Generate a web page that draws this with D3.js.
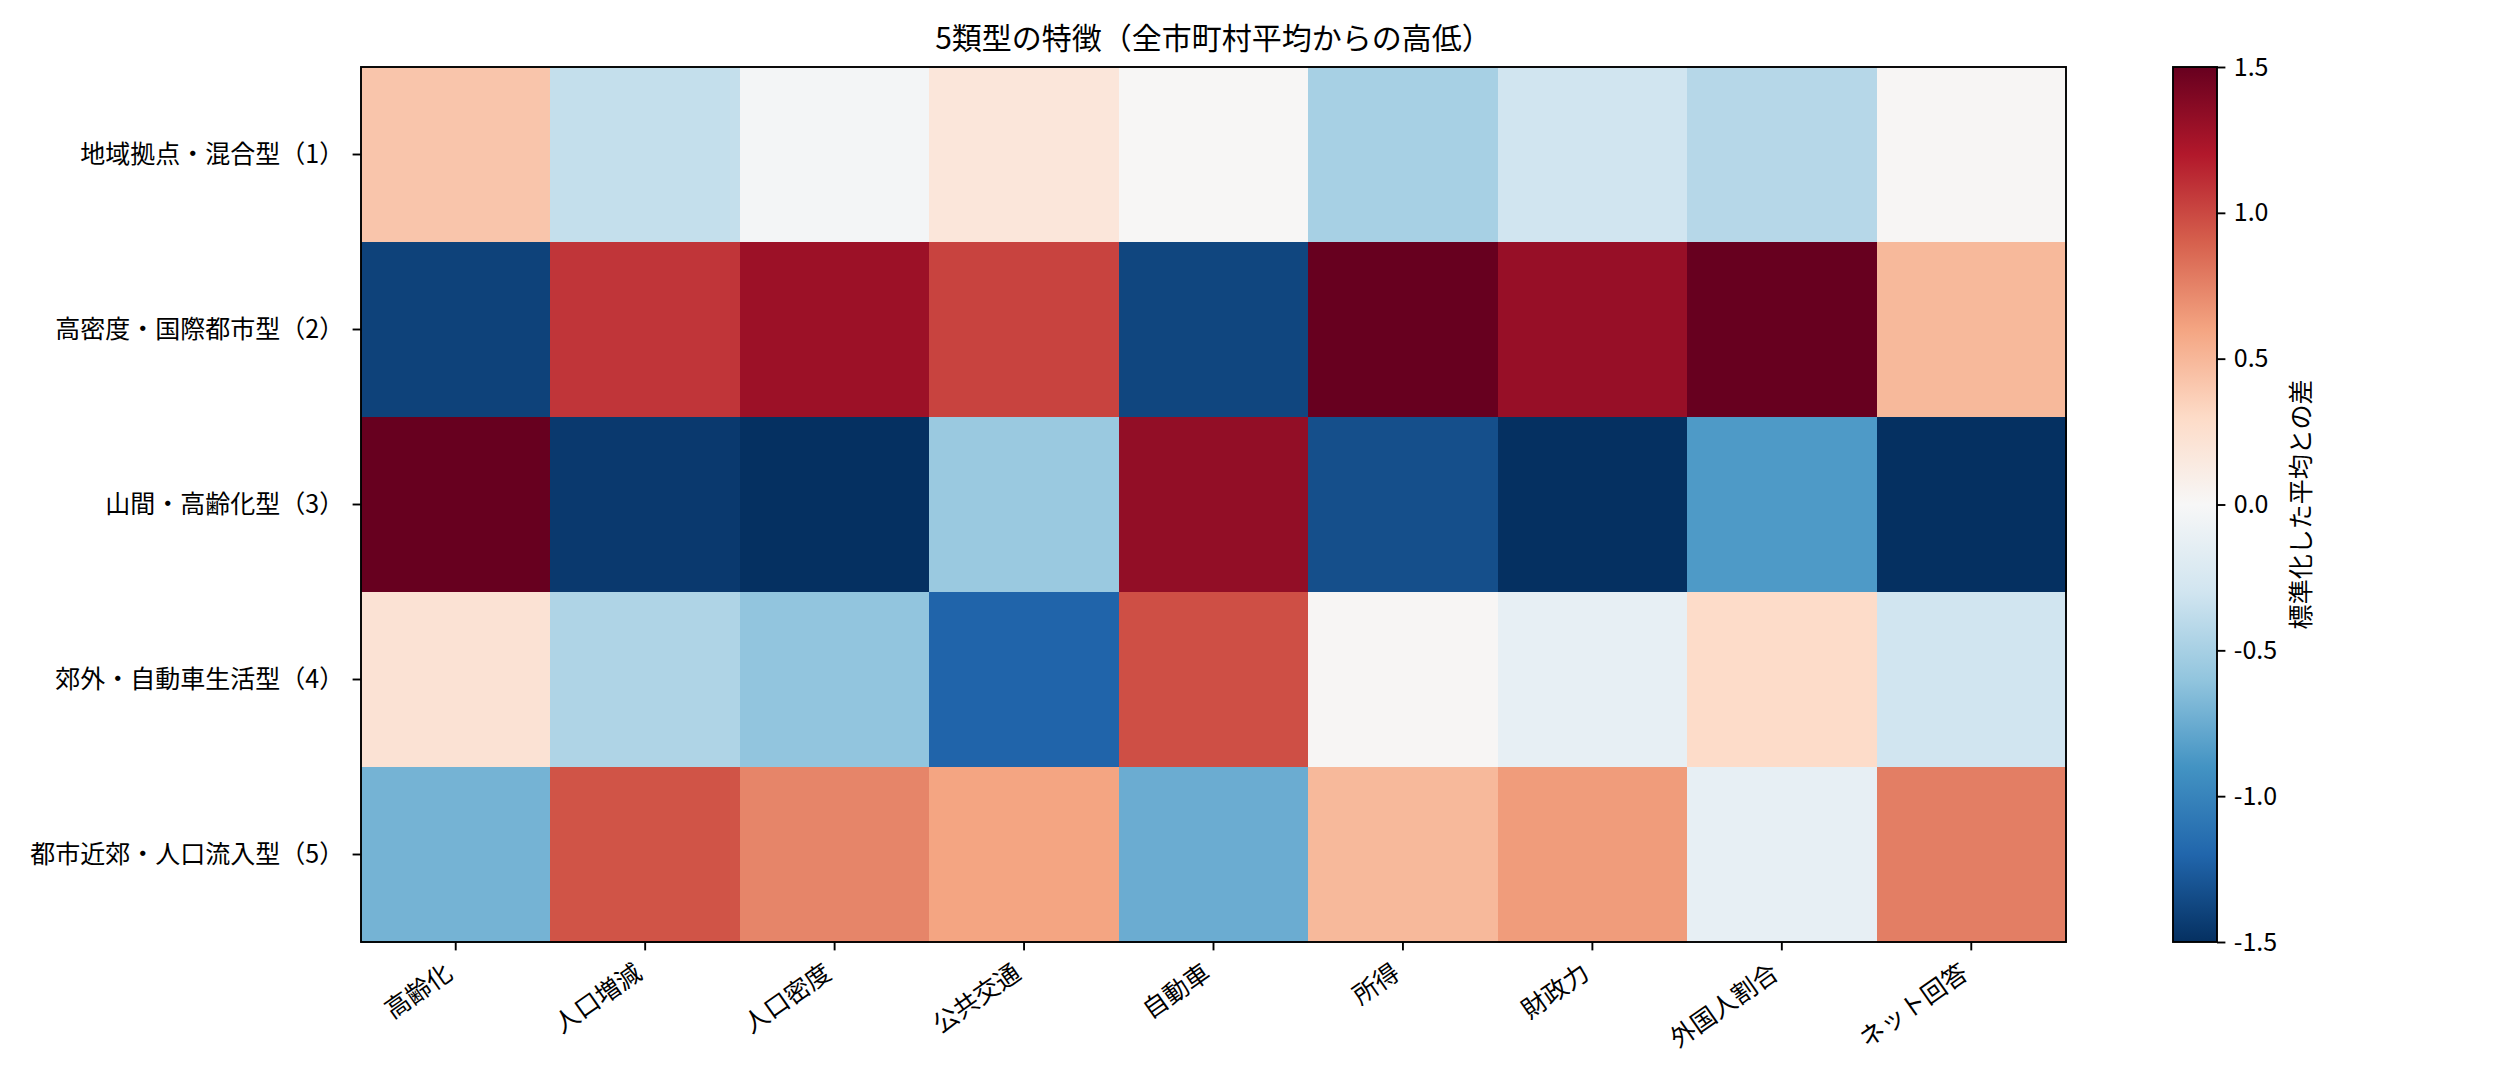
<!DOCTYPE html>
<html>
<head>
<meta charset="utf-8">
<script src="https://cdn.jsdelivr.net/npm/d3@7"></script>
<style>
    body { margin: 0; background: white; }
    svg text { font-family: "Noto Sans CJK JP", "Noto Sans", sans-serif; fill: black; }
</style>
</head>
<body>
<div id="chart-container"></div>
<script>
// Row categories (types) and column categories (indicators)
var clusterNames = ["地域拠点・混合型（1）", "高密度・国際都市型（2）", "山間・高齢化型（3）", "郊外・自動車生活型（4）", "都市近郊・人口流入型（5）"];
var featureNames = ["高齢化", "人口増減", "人口密度", "公共交通", "自動車", "所得", "財政力", "外国人割合", "ネット回答"];

// Standardised difference from the all-municipality mean, one array per type
var type1Values = [0.42, -0.36, -0.03, 0.18, 0.01, -0.50, -0.30, -0.43, 0.02];
var type2Values = [-1.40, 1.08, 1.29, 1.02, -1.38, 1.80, 1.31, 1.70, 0.49];
var type3Values = [1.75, -1.45, -1.60, -0.56, 1.33, -1.33, -1.62, -0.86, -1.65];
var type4Values = [0.22, -0.46, -0.60, -1.21, 0.97, 0.02, -0.13, 0.29, -0.30];
var type5Values = [-0.71, 0.95, 0.74, 0.60, -0.75, 0.49, 0.64, -0.13, 0.77];
var allValues = [type1Values, type2Values, type3Values, type4Values, type5Values];

// Colour bar tick labels and limits
var colorTicks = [-1.5, -1.0, -0.5, 0.0, 0.5, 1.0, 1.5];
var colorMin = -1.5, colorMax = 1.5;

// RdBu_r anchor colours (blue -> white -> red)
var rdbuColors = ["#053061", "#2166ac", "#4393c3", "#92c5de", "#d1e5f0", "#f7f7f7", "#fddbc7", "#f4a582", "#d6604d", "#b2182b", "#67001f"];

// Figure layout
var width = 2520, height = 1080;
var plot = { left: 361, right: 2066, top: 67, bottom: 942 };
var bar = { left: 2173, right: 2217 };
var tickLen = 8.4, tickPad = 8.4;

var svg = d3.select("#chart-container")
    .append("svg")
    .attr("width", width)
    .attr("height", height);

// Scales for the grid
var x = d3.scaleBand().domain(featureNames).range([plot.left, plot.right]).padding(0);
var y = d3.scaleBand().domain(clusterNames).range([plot.top, plot.bottom]).padding(0);

// Colour scale: piecewise linear across the 11 anchors, clamped at the limits
var colorDomain = rdbuColors.map((c, i) => colorMin + (colorMax - colorMin) * i / (rdbuColors.length - 1));
var color = d3.scaleLinear().domain(colorDomain).range(rdbuColors).interpolate(d3.interpolateRgb).clamp(true);

// Flatten the rows into cells
var cells = [];
allValues.forEach((row, r) => row.forEach((v, c) => cells.push({ row: clusterNames[r], col: featureNames[c], value: v })));

svg.append("g")
    .selectAll("rect")
    .data(cells)
    .enter()
    .append("rect")
    .attr("x", d => x(d.col))
    .attr("y", d => y(d.row))
    .attr("width", x.bandwidth() + 0.5)
    .attr("height", y.bandwidth() + 0.5)
    .attr("shape-rendering", "crispEdges")
    .attr("fill", d => color(d.value));

// Axes
var xAxis = svg.append("g")
    .attr("transform", `translate(0, ${plot.bottom})`)
    .call(d3.axisBottom(x).tickSize(tickLen).tickPadding(tickPad));
var yAxis = svg.append("g")
    .attr("transform", `translate(${plot.left}, 0)`)
    .call(d3.axisLeft(y).tickSize(tickLen).tickPadding(tickPad));

[xAxis, yAxis].forEach(a => {
    a.select(".domain").remove();
    a.selectAll("line").attr("stroke", "black").attr("stroke-width", 1.9);
    a.selectAll("text").style("font-size", "25px").attr("fill", "black");
});

// Rotate the column labels, right aligned to the tick
xAxis.selectAll("text")
    .attr("dy", null)
    .attr("y", null)
    .attr("transform", `translate(-1.5, ${tickLen + tickPad + 18}) rotate(-35)`)
    .style("text-anchor", "end");

yAxis.selectAll("text").attr("dy", "0.35em");

// Frame around the grid
svg.append("rect")
    .attr("x", plot.left)
    .attr("y", plot.top)
    .attr("width", plot.right - plot.left)
    .attr("height", plot.bottom - plot.top)
    .attr("fill", "none")
    .attr("stroke", "black")
    .attr("stroke-width", 1.9);

// Title
svg.append("text")
    .attr("x", (plot.left + plot.right) / 2)
    .attr("y", 49)
    .attr("text-anchor", "middle")
    .style("font-size", "30px")
    .text("5類型の特徴（全市町村平均からの高低）");

// Colour bar
var cScale = d3.scaleLinear().domain([colorMin, colorMax]).range([plot.bottom, plot.top]);

var grad = svg.append("defs").append("linearGradient")
    .attr("id", "cbar")
    .attr("x1", 0).attr("y1", 1).attr("x2", 0).attr("y2", 0);
grad.selectAll("stop")
    .data(rdbuColors)
    .enter()
    .append("stop")
    .attr("offset", (d, i) => i / (rdbuColors.length - 1))
    .attr("stop-color", d => d);

svg.append("rect")
    .attr("x", bar.left)
    .attr("y", plot.top)
    .attr("width", bar.right - bar.left)
    .attr("height", plot.bottom - plot.top)
    .attr("fill", "url(#cbar)")
    .attr("stroke", "black")
    .attr("stroke-width", 1.9);

var cAxis = svg.append("g")
    .attr("transform", `translate(${bar.right}, 0)`)
    .call(d3.axisRight(cScale).tickValues(colorTicks).tickFormat(d3.format(".1f")).tickSize(tickLen).tickPadding(tickPad));
cAxis.select(".domain").remove();
cAxis.selectAll("line").attr("stroke", "black").attr("stroke-width", 1.9);
cAxis.selectAll("text").style("font-size", "25px").attr("fill", "black")
    .text(d => d3.format(".1f")(d).replace("−", "-"));

// Colour bar label
svg.append("text")
    .attr("transform", `translate(2301, ${(plot.top + plot.bottom) / 2}) rotate(-90)`)
    .attr("text-anchor", "middle")
    .attr("dy", "0.35em")
    .style("font-size", "25px")
    .text("標準化した平均との差");
</script>
</body>
</html>
